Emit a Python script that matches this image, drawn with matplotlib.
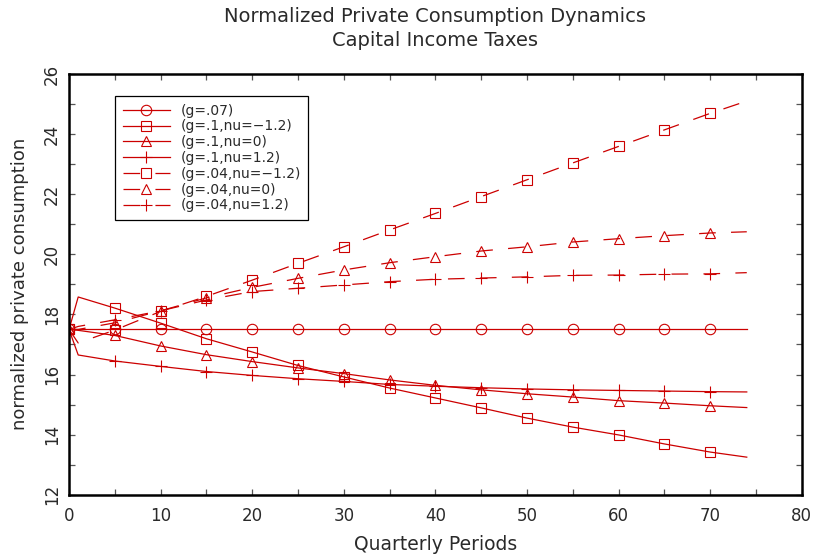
import numpy as np
import matplotlib
matplotlib.use("Agg")
import matplotlib.pyplot as plt
from matplotlib.lines import Line2D
from matplotlib.legend_handler import HandlerLine2D
from matplotlib.ticker import MultipleLocator

plt.rcParams['font.family'] = ['DejaVu Sans']
plt.rcParams['lines.scale_dashes'] = False

# ---- data ----
periods = [0, 1, 5, 10, 15, 20, 25, 30, 35, 40, 45, 50, 55, 60, 65, 70, 74]
marker_periods = [0, 5, 10, 15, 20, 25, 30, 35, 40, 45, 50, 55, 60, 65, 70]

g07 = [17.5, 17.5, 17.5, 17.5, 17.5, 17.5, 17.5, 17.5, 17.5, 17.5, 17.5, 17.5, 17.5, 17.5, 17.5, 17.5, 17.5]
g1_num12 = [17.5, 18.58, 18.21, 17.71, 17.19, 16.75, 16.30, 15.92, 15.55, 15.22, 14.89, 14.55, 14.25, 13.99, 13.69, 13.42, 13.25]
g1_nu0 = [17.5, 17.47, 17.30, 16.95, 16.66, 16.43, 16.22, 16.03, 15.82, 15.64, 15.49, 15.36, 15.25, 15.13, 15.05, 14.96, 14.90]
g1_nu12 = [17.5, 16.65, 16.45, 16.27, 16.10, 15.97, 15.86, 15.77, 15.67, 15.61, 15.56, 15.52, 15.49, 15.47, 15.45, 15.43, 15.42]
g04_num12 = [17.5, 17.05, 17.48, 18.10, 18.60, 19.14, 19.70, 20.25, 20.81, 21.36, 21.92, 22.48, 23.04, 23.59, 24.14, 24.69, 25.10]
g04_nu0 = [17.5, 17.50, 17.72, 18.12, 18.55, 18.90, 19.20, 19.48, 19.72, 19.92, 20.11, 20.25, 20.41, 20.52, 20.62, 20.71, 20.75]
g04_nu12 = [17.5, 17.60, 17.82, 18.12, 18.48, 18.76, 18.87, 18.98, 19.09, 19.17, 19.21, 19.25, 19.30, 19.31, 19.34, 19.35, 19.39]

series = [
    ("(g=.07)", g07, 'o', '-'),
    ("(g=.1,nu=\u22121.2)", g1_num12, 's', '-'),
    ("(g=.1,nu=0)", g1_nu0, '^', '-'),
    ("(g=.1,nu=1.2)", g1_nu12, '+', '-'),
    ("(g=.04,nu=\u22121.2)", g04_num12, 's', '--'),
    ("(g=.04,nu=0)", g04_nu0, '^', '--'),
    ("(g=.04,nu=1.2)", g04_nu12, '+', '--'),
]

title1 = "Normalized Private Consumption Dynamics"
title2 = "Capital Income Taxes"
xlabel = "Quarterly Periods"
ylabel = "normalized private consumption"

RED = '#cc0000'
TXT = '#2a2a2a'

fig = plt.figure(figsize=(8.16, 5.59), dpi=100)
ax = fig.add_axes([0.0846, 0.115, 0.8979, 0.7526])

mark_idx = [periods.index(p) for p in marker_periods]
handles = []
for label, vals, mk, ls in series:
    kw = dict(color=RED, lw=0.9, marker=mk, markersize=7.5 if mk != '+' else 9,
              markerfacecolor='none', markeredgecolor=RED, markeredgewidth=0.8,
              markevery=mark_idx, label=label)
    if ls == '--':
        kw['dashes'] = (12, 11)
    else:
        kw['linestyle'] = '-'
    ln, = ax.plot(periods, vals, **kw)
    handles.append(ln)


class LeftMarkerHandler(HandlerLine2D):
    def get_xdata(self, legend, xdescent, ydescent, width, height, fontsize):
        xdata = np.array([-xdescent, -xdescent + width], float)
        return xdata, np.array([-xdescent], float)


leg = ax.legend(handles=handles, loc='upper left',
                bbox_to_anchor=(0.0628, 0.9477), borderaxespad=0,
                fontsize=10, handlelength=3.4, handletextpad=0.75,
                labelspacing=0.13, borderpad=0.55, fancybox=False,
                frameon=True, edgecolor='black', framealpha=1,
                handler_map={Line2D: LeftMarkerHandler(numpoints=1)})
leg.get_frame().set_linewidth(0.9)
for t in leg.get_texts():
    t.set_color(TXT)

ax.set_xlim(0, 80)
ax.set_ylim(12, 26)
ax.xaxis.set_major_locator(MultipleLocator(10))
ax.xaxis.set_minor_locator(MultipleLocator(5))
ax.yaxis.set_major_locator(MultipleLocator(2))
ax.yaxis.set_minor_locator(MultipleLocator(1))
ax.tick_params(which='both', direction='in', top=True, right=True,
               length=4, width=0.9, color='#555555')
ax.tick_params(axis='x', which='major', labelsize=12, pad=9, labelcolor=TXT)
ax.tick_params(axis='y', which='major', labelsize=12, pad=6, labelcolor=TXT)
for lbl in ax.get_yticklabels():
    lbl.set_rotation(90)
    lbl.set_va('center')
for sp in ax.spines.values():
    sp.set_linewidth(1.8)
    sp.set_color('black')

ax.set_xlabel(xlabel, fontsize=13.5, color=TXT, labelpad=7)
ax.set_ylabel(ylabel, fontsize=13, color=TXT, labelpad=10)

cx = 0.0846 + 0.8979 / 2
fig.text(cx, 1 - 17 / 559, title1, ha='center', va='center', fontsize=14, color=TXT)
fig.text(cx, 1 - 40 / 559, title2, ha='center', va='center', fontsize=14, color=TXT)

fig.savefig("out.png", dpi=100)
